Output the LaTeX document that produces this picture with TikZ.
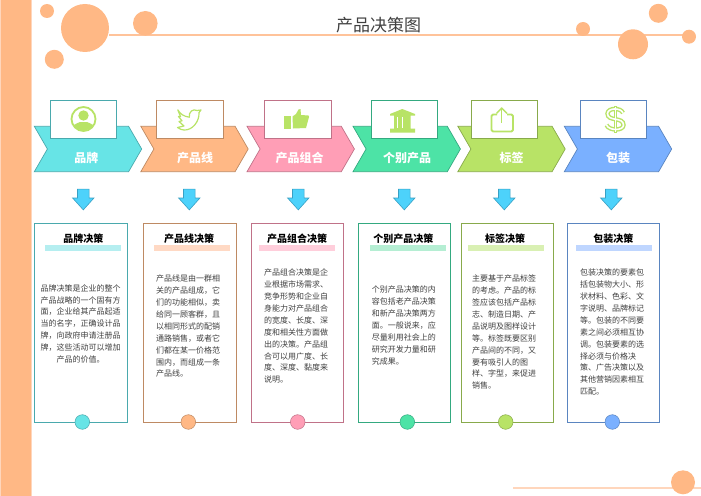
\documentclass[tikz,border=0pt]{standalone}
\usepackage{fontspec}
\setmainfont{Noto Sans CJK SC}
\usetikzlibrary{shapes.symbols,shapes.arrows}
\definecolor{tealfill}{HTML}{67E4E6}\definecolor{tealline}{HTML}{4AA9AD}\definecolor{tealbar}{HTML}{B5EEF0}
\definecolor{peachfill}{HTML}{FFB885}\definecolor{peachline}{HTML}{BE8A63}\definecolor{peachbar}{HTML}{FFD9C4}
\definecolor{pinkfill}{HTML}{FF9EB6}\definecolor{pinkline}{HTML}{C07288}\definecolor{pinkbar}{HTML}{FFCEDB}
\definecolor{mintfill}{HTML}{4DE3A6}\definecolor{mintline}{HTML}{34A980}\definecolor{mintbar}{HTML}{B5EED3}
\definecolor{limefill}{HTML}{B8E366}\definecolor{limeline}{HTML}{88AA4B}\definecolor{limebar}{HTML}{D9F0B3}
\definecolor{bluefill}{HTML}{7AB0FF}\definecolor{blueline}{HTML}{5A85C0}\definecolor{bluebar}{HTML}{BFD6FF}
\definecolor{arrowfill}{HTML}{4DD2FB}\definecolor{arrowline}{HTML}{38A0C4}
\definecolor{rulecol}{HTML}{FFC39A}\definecolor{rulelow}{HTML}{FFD6BC}\definecolor{bodycol}{HTML}{404040}
\begin{document}
\begin{tikzpicture}[x=1pt,y=-1pt,
	blob/.style={circle, fill=peachfill, inner sep=0pt, outer sep=0pt, minimum size=#1},
	thinbar/.style={rectangle, fill=#1, inner sep=0pt, outer sep=0pt, minimum height=2pt},
	chev/.style={signal, signal from=west, signal to=east, signal pointer angle=120,
		draw=#1line, fill=#1fill, line width=0.7pt, inner sep=0pt, outer sep=0pt,
		minimum width=107.4pt, minimum height=45.4pt},
	chevtext/.style={text=white, font=\fontsize{12}{14}\selectfont\bfseries, inner sep=0pt},
	iconbox/.style={rectangle, draw=#1line, fill=white, line width=0.7pt, inner sep=0pt, outer sep=0pt,
		minimum width=66.4pt, minimum height=38pt},
	down/.style={single arrow, shape border rotate=270, draw=arrowline, fill=arrowfill, line width=0.6pt,
		inner xsep=5.5pt, inner ysep=0pt, outer sep=0pt, minimum height=20.7pt, minimum width=20.7pt,
		single arrow head extend=4.85pt, single arrow tip angle=84},
	panel/.style={rectangle, draw=#1line, fill=white, line width=0.8pt, inner sep=0pt, outer sep=0pt,
		minimum width=92.6pt, minimum height=198.6pt},
	head/.style={font=\fontsize{10}{12}\selectfont\bfseries, inner sep=0pt},
	bar/.style={rectangle, fill=#1bar, inner sep=0pt, outer sep=0pt, minimum width=76pt, minimum height=6pt},
	body/.style={text=bodycol, font=\fontsize{8}{11.9}\selectfont, align=left, anchor=north west, inner sep=0pt},
	dot/.style={circle, draw=#1line, fill=#1fill, line width=0.5pt, inner sep=0pt, outer sep=0pt, minimum size=14.6pt},
	icon/.style={draw=limefill, line width=1.8pt, line join=round},
	iconfill/.style={fill=limefill}]
	\useasboundingbox (0,0) rectangle (701,495);
	% band and title
	\node[rectangle, fill=peachfill, draw=rulelow, line width=1pt, inner sep=0pt, minimum width=31pt, minimum height=497pt] (band) at (15.5,247.5) {};
	\node[thinbar=rulecol, minimum width=581pt] (ruletop) at (399.5,35.3) {};
	\node[thinbar=rulelow, minimum width=188pt] (rulelower) at (607,487.7) {};
	\node[blob=14pt] (b1) at (47,11) {};
	\node[blob=48pt] (b2) at (85,28) {};
	\node[blob=24.6pt] (b3) at (145.3,23.3) {};
	\node[blob=19pt] (b4) at (54.3,59.3) {};
	\node[blob=14pt] (b5) at (583,29) {};
	\node[blob=19pt] (b6) at (658.3,13.3) {};
	\node[blob=30pt] (b7) at (633,44.3) {};
	\node[blob=14pt] (b8) at (689,36.7) {};
	\node[blob=24pt] (b9) at (683,482.3) {};
	\node[text=bodycol, font=\fontsize{17}{20}\selectfont, inner sep=0pt] (title) at (378.5,25) {产品决策图};
	% chevrons
	\node[chev=teal] (c1) at (88,149) {};
	\node[chev=peach] (c2) at (194.5,149) {};
	\node[chev=pink] (c3) at (300.7,149) {};
	\node[chev=mint] (c4) at (406.7,149) {};
	\node[chev=lime] (c5) at (511.5,149) {};
	\node[chev=blue] (c6) at (618,149) {};
	\node[chevtext] (t1) at (86.3,157.7) {品牌};
	\node[chevtext] (t2) at (195,157.7) {产品线};
	\node[chevtext] (t3) at (299.7,157.7) {产品组合};
	\node[chevtext] (t4) at (407,157.7) {个别产品};
	\node[chevtext] (t5) at (511.7,157.7) {标签};
	\node[chevtext] (t6) at (618,157.7) {包装};
	\node[iconbox=teal] (i1) at (83.5,119.3) {};
	\node[iconbox=peach] (i2) at (190,119.3) {};
	\node[iconbox=pink] (i3) at (298,119.3) {};
	\node[iconbox=mint] (i4) at (404.5,119.3) {};
	\node[iconbox=lime] (i5) at (504.5,119.3) {};
	\node[iconbox=blue] (i6) at (613.5,119.3) {};
	% icons
	\begin{scope}
		\clip (83.5,119) circle (11.5);
		\fill[iconfill] (83.5,115.5) circle (5.2);
		\fill[iconfill] (72,132) -- (72,127) .. controls (75,123.5) and (78,123) .. (80,122) -- (87,122) .. controls (89,123) and (92,123.5) .. (95,127) -- (95,132) -- cycle;
	\end{scope}
	\draw[icon] (83.5,119) circle (12);
	\draw[icon, line width=1.2pt] (177.8,109.8) .. controls (180,114) and (184,116.5) .. (189.3,117.2)
		.. controls (188.5,112) and (193,108.3) .. (197,110.5) -- (201,110) -- (199,112.5)
		.. controls (199.5,122) and (192,130.5) .. (184,130) .. controls (182,130) and (179.5,129) .. (177.5,127.5)
		-- (184,126) -- (179,121.5) -- (182,120.8) -- (178.5,116.5) -- (180.5,116.5) -- cycle;
	\fill[iconfill] (284.3,116) rectangle (290.7,129.3);
	\fill[iconfill] (292.5,116.5) -- (296,114) -- (298.5,109.5) -- (300.5,109) -- (301,115) -- (308.5,115.5) -- (309,117) -- (306,128) -- (293,128.5) -- cycle;
	\fill[iconfill] (402.3,109) -- (415,114) -- (415,115.5) -- (410.7,115.5) -- (410.7,128.7) -- (415,128.7) -- (415,132.7) -- (390,132.7) -- (390,128.7) -- (394,128.7) -- (394,115.5) -- (390,115.5) -- (390,114) -- cycle;
	\fill[white] (397.2,116.5) rectangle (398.2,127.5);
	\fill[white] (402.2,116.5) rectangle (403.2,127.5);
	\draw[icon, rounded corners=1.5pt] (497,114.5) -- (491.5,114.5) -- (491.5,131.5) -- (513,131.5) -- (513,114.5) -- (507,114.5);
	\draw[icon, line width=1.4pt] (501.7,122.7) -- (501.7,108);
	\draw[icon, line width=1.4pt] (496.5,113.5) -- (501.7,108) -- (507,113.5);
	\draw[limefill, line width=4.4pt] (623,113) .. controls (621,107.5) and (608,107.5) .. (607.5,113.5) .. controls (607.5,122) and (623.5,116.5) .. (623.5,125) .. controls (623.5,131) and (609,131) .. (606.5,125);
	\draw[limefill, line width=3pt] (615.3,106) -- (615.3,132.7);
	\draw[white, line width=1.6pt] (623,113) .. controls (621,107.5) and (608,107.5) .. (607.5,113.5) .. controls (607.5,122) and (623.5,116.5) .. (623.5,125) .. controls (623.5,131) and (609,131) .. (606.5,125);
	\draw[white, line width=0.8pt] (615.3,107) -- (615.3,131.7);
	% arrows
	\node[down] (a1) at (83.3,196.3) {};
	\node[down] (a2) at (189.3,196.3) {};
	\node[down] (a3) at (298.3,196.3) {};
	\node[down] (a4) at (404.3,196.3) {};
	\node[down] (a5) at (504.3,196.3) {};
	\node[down] (a6) at (611.3,196.3) {};
	% panels
	\node[panel=teal] (p1) at (80.8,323) {};
	\node[panel=peach] (p2) at (190,323) {};
	\node[panel=pink] (p3) at (297.3,323) {};
	\node[panel=mint] (p4) at (404.5,323) {};
	\node[panel=lime] (p5) at (507.5,323) {};
	\node[panel=blue] (p6) at (613.3,323) {};
	\node[head] (h1) at (83.3,238.3) {品牌决策};
	\node[head] (h2) at (189,238.3) {产品线决策};
	\node[head] (h3) at (297,238.3) {产品组合决策};
	\node[head] (h4) at (403.3,238.3) {个别产品决策};
	\node[head] (h5) at (505,238.3) {标签决策};
	\node[head] (h6) at (613.3,238.3) {包装决策};
	\node[bar=teal] (r1) at (83,248) {};
	\node[bar=peach] (r2) at (192,248) {};
	\node[bar=pink] (r3) at (297,248) {};
	\node[bar=mint] (r4) at (408,248) {};
	\node[bar=lime] (r5) at (506,248) {};
	\node[bar=blue] (r6) at (614,248) {};
	\node[body, align=center, anchor=north] (d1) at (80.5,284.2) {品牌决策是企业的整个\\产品战略的一个固有方\\面，企业给其产品起适\\当的名字，正确设计品\\牌，向政府申请注册品\\牌，这些活动可以增加\\产品的价值。};
	\node[body] (d2) at (156,274.8) {产品线是由一群相\\关的产品组成，它\\们的功能相似，卖\\给同一顾客群，且\\以相同形式的配销\\通路销售，或者它\\们都在某一价格范\\围内，而组成一条\\产品线。};
	\node[body] (d3) at (264,268.8) {产品组合决策是企\\业根据市场需求、\\竞争形势和企业自\\身能力对产品组合\\的宽度、长度、深\\度和相关性方面做\\出的决策。产品组\\合可以用广度、长\\度、深度、黏度来\\说明。};
	\node[body] (d4) at (371.7,285.8) {个别产品决策的内\\容包括老产品决策\\和新产品决策两方\\面。一般说来，应\\尽量利用社会上的\\研究开发力量和研\\究成果。};
	\node[body] (d5) at (472,274.8) {主要基于产品标签\\的考虑。产品的标\\签应该包括产品标\\志、制造日期、产\\品说明及图样设计\\等。标签既要区别\\产品间的不同，又\\要有吸引人的图\\样、字型，来促进\\销售。};
	\node[body] (d6) at (580,268.8) {包装决策的要素包\\括包装物大小、形\\状材料、色彩、文\\字说明、品牌标记\\等。包装的不同要\\素之间必须相互协\\调。包装要素的选\\择必须与价格决\\策、广告决策以及\\其他营销因素相互\\匹配。};
	\node[dot=teal] (o1) at (82.3,422) {};
	\node[dot=peach] (o2) at (188.3,422) {};
	\node[dot=pink] (o3) at (297.7,422) {};
	\node[dot=mint] (o4) at (407.3,422) {};
	\node[dot=lime] (o5) at (505.7,422) {};
	\node[dot=blue] (o6) at (612.3,422) {};
\end{tikzpicture}
\end{document}
